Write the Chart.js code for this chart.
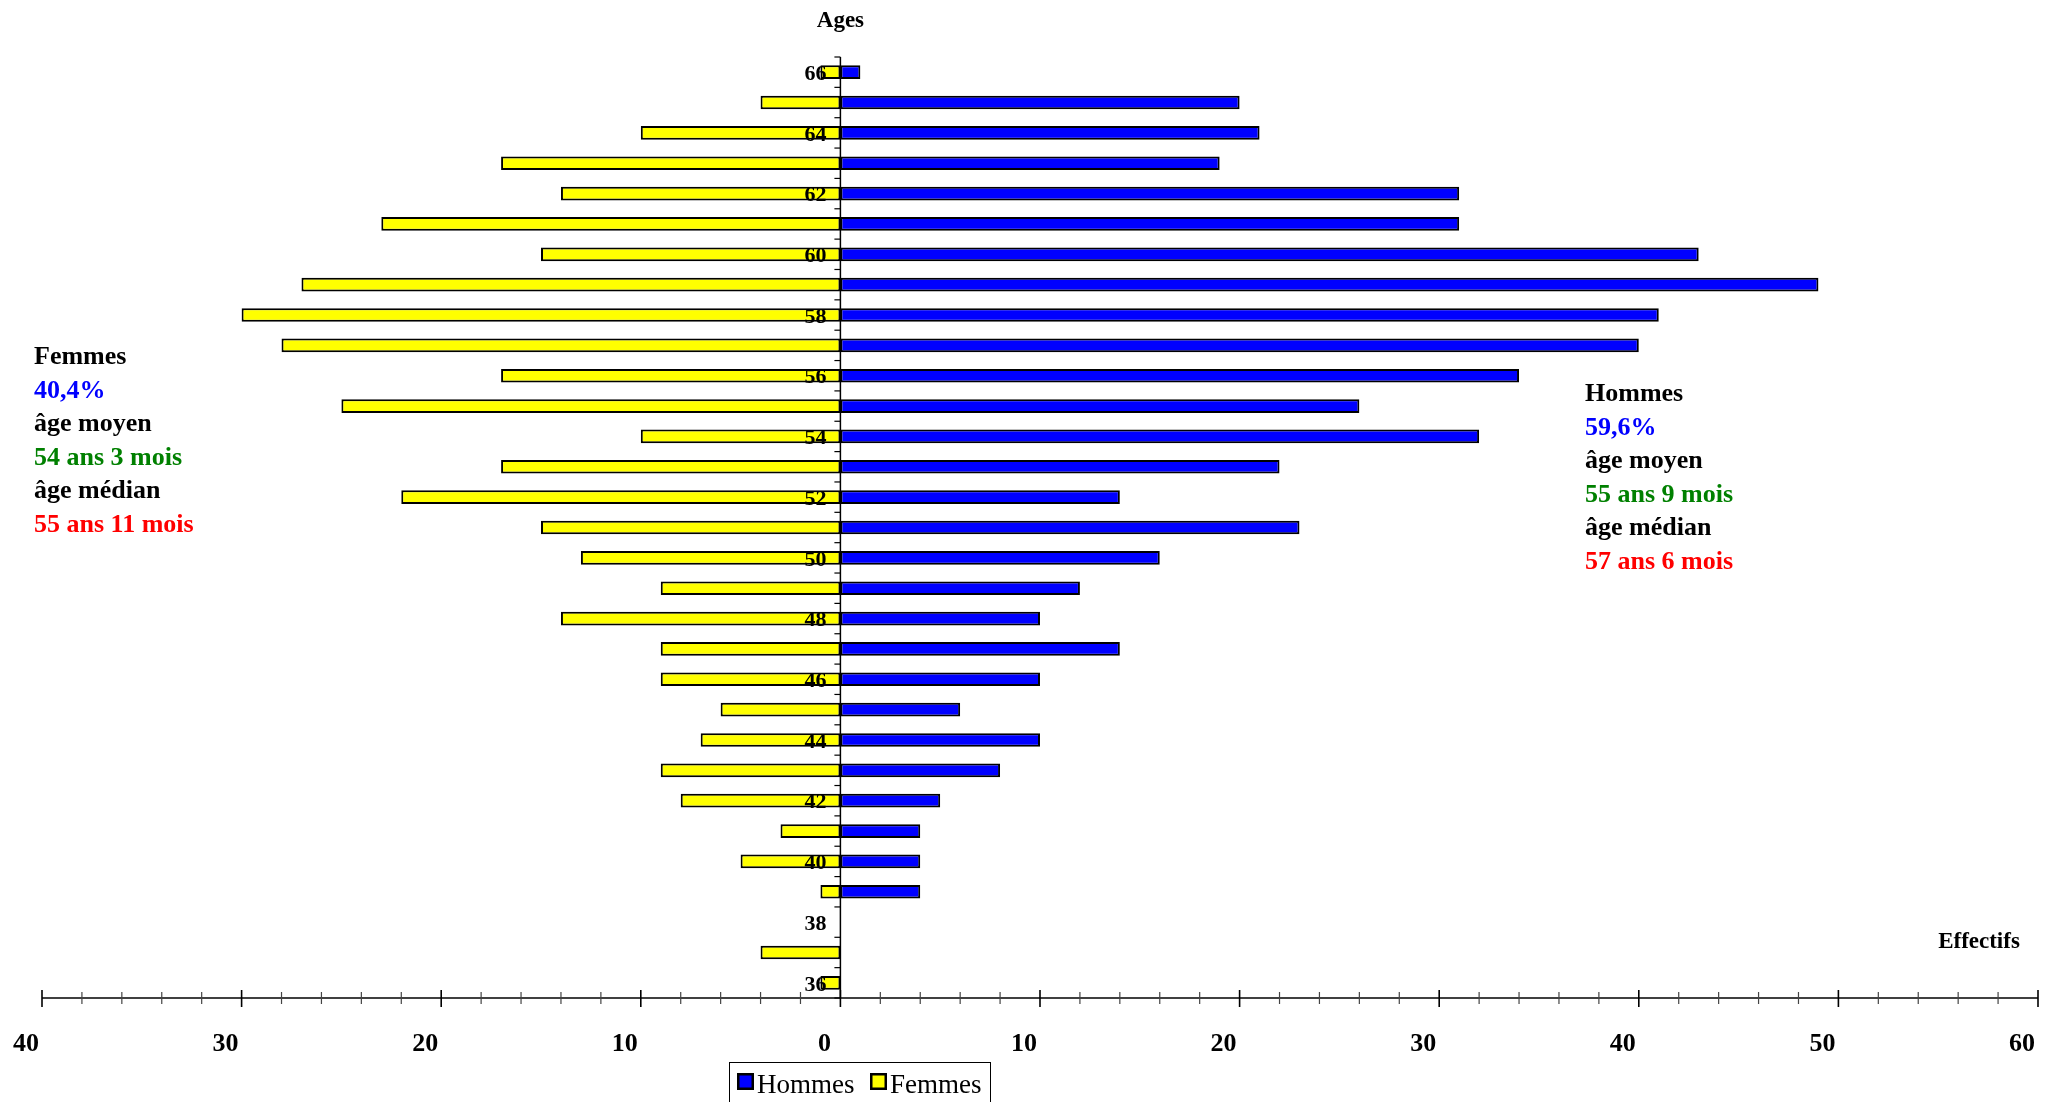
<!DOCTYPE html>
<html>
<head>
<meta charset="utf-8">
<script src="https://cdn.jsdelivr.net/npm/chart.js@4.4.0/dist/chart.umd.min.js"></script>
<style>
  html, body { margin: 0; padding: 0; background: #fff; }
</style>
</head>
<body>
<canvas id="myChart" width="2056" height="1102"></canvas>
<script>
// ages, top to bottom
const ages = [66, 65, 64, 63, 62, 61, 60, 59, 58, 57, 56, 55, 54, 53, 52, 51,
              50, 49, 48, 47, 46, 45, 44, 43, 42, 41, 40, 39, 38, 37, 36];
const hommes = [1, 20, 21, 19, 31, 31, 43, 49, 41, 40, 34, 26, 32, 22, 14, 23,
                16, 12, 10, 14, 10, 6, 10, 8, 5, 4, 4, 4, 0, 0, 0];
const femmes = [1, 4, 10, 17, 14, 23, 15, 27, 30, 28, 17, 25, 10, 17, 22, 15,
                13, 9, 14, 9, 9, 6, 7, 9, 8, 3, 5, 1, 0, 4, 1];
const xTicks = [-40, -30, -20, -10, 0, 10, 20, 30, 40, 50, 60];

const femmesNotes = ['Femmes', '40,4%', 'âge moyen', '54 ans 3 mois', 'âge médian', '55 ans 11 mois'];
const hommesNotes = ['Hommes', '59,6%', 'âge moyen', '55 ans 9 mois', 'âge médian', '57 ans 6 mois'];
const noteColors = ['#000000', '#0000ff', '#000000', '#008000', '#000000', '#ff0000'];

const SERIF = '"Liberation Serif", "Times New Roman", serif';

// axes, labels, legend and side notes
const pyramidPlugin = {
    id: 'pyramid',
    afterDatasetsDraw(chart) {
        const ctx = chart.ctx;
        const xs = chart.scales.x;
        const ys = chart.scales.y;
        const area = chart.chartArea;
        const x0 = xs.getPixelForValue(0);
        const step = ys.getPixelForTick(1) - ys.getPixelForTick(0);

        ctx.save();
        ctx.strokeStyle = '#000';
        ctx.lineWidth = 1.5;

        // vertical axis at 0
        ctx.beginPath();
        ctx.moveTo(x0, area.top);
        ctx.lineTo(x0, area.bottom);
        ctx.stroke();

        // small ticks between ages
        ctx.lineWidth = 1.2;
        for (let i = 0; i <= ages.length; i++) {
            const y = ys.getPixelForTick(0) - step / 2 + i * step;
            ctx.beginPath();
            ctx.moveTo(x0 - 6, y);
            ctx.lineTo(x0, y);
            ctx.stroke();
        }

        // age labels, one every two years
        ctx.fillStyle = '#000';
        ctx.font = 'bold 22px ' + SERIF;
        ctx.textAlign = 'right';
        ctx.textBaseline = 'middle';
        ages.forEach((a, i) => {
            if (a % 2 === 0) {
                ctx.fillText(String(a), x0 - 14, ys.getPixelForTick(i) + 2);
            }
        });

        // horizontal axis
        const yb = area.bottom;
        ctx.lineWidth = 1.5;
        ctx.beginPath();
        ctx.moveTo(xs.getPixelForValue(-40), yb);
        ctx.lineTo(xs.getPixelForValue(60), yb);
        ctx.stroke();
        for (let v = -40; v <= 60; v += 2) {
            const px = xs.getPixelForValue(v);
            const major = v % 10 === 0;
            ctx.strokeStyle = major ? '#000' : '#444';
            ctx.lineWidth = major ? 1.6 : 1.2;
            ctx.beginPath();
            ctx.moveTo(px, yb - (major ? 8 : 6));
            ctx.lineTo(px, yb + (major ? 9 : 6));
            ctx.stroke();
        }
        ctx.restore();
    },
    afterDraw(chart) {
        const ctx = chart.ctx;
        ctx.save();

        // titles
        ctx.fillStyle = '#000';
        ctx.font = 'bold 23px ' + SERIF;
        ctx.textAlign = 'center';
        ctx.textBaseline = 'alphabetic';
        ctx.fillText('Ages', chart.scales.x.getPixelForValue(0), 27);
        ctx.fillText('Effectifs', 1979, 948);

        // side notes
        ctx.font = 'bold 26px ' + SERIF;
        ctx.textAlign = 'left';
        femmesNotes.forEach((t, i) => {
            ctx.fillStyle = noteColors[i];
            ctx.fillText(t, 34, 364 + i * 33.6);
        });
        hommesNotes.forEach((t, i) => {
            ctx.fillStyle = noteColors[i];
            ctx.fillText(t, 1585, 401 + i * 33.6);
        });

        // legend
        ctx.strokeStyle = '#000';
        ctx.lineWidth = 1;
        ctx.strokeRect(729.5, 1062.5, 261, 50);
        ctx.font = '27px ' + SERIF;
        ctx.textBaseline = 'alphabetic';
        const items = [
            { x: 737, ds: chart.data.datasets[0] },
            { x: 870, ds: chart.data.datasets[1] }
        ];
        items.forEach(it => {
            ctx.fillStyle = it.ds.backgroundColor;
            ctx.fillRect(it.x, 1073, 17, 17);
            ctx.lineWidth = 2.5;
            ctx.strokeRect(it.x + 1.25, 1074.25, 14.5, 14.5);
            ctx.fillStyle = '#000';
            ctx.fillText(it.ds.label, it.x + 20, 1093);
        });
        ctx.restore();
    }
};

const data = {
    labels: ages.map(String),
    datasets: [{
        label: 'Hommes',
        data: hommes,
        backgroundColor: '#0000ff',
        borderColor: '#000000',
        borderWidth: 2,
        borderSkipped: false,
        categoryPercentage: 1,
        barPercentage: 0.45
    }, {
        label: 'Femmes',
        data: femmes.map(v => -v),
        backgroundColor: '#ffff00',
        borderColor: '#000000',
        borderWidth: 2,
        borderSkipped: false,
        categoryPercentage: 1,
        barPercentage: 0.45
    }]
};

const config = {
    type: 'bar',
    data: data,
    options: {
        indexAxis: 'y',
        responsive: false,
        animation: false,
        layout: {
            padding: { left: 42, right: 18, top: 57, bottom: 0 }
        },
        plugins: {
            legend: { display: false },
            tooltip: { enabled: false }
        },
        scales: {
            x: {
                stacked: true,
                min: -40,
                max: 60,
                grid: { display: false, drawTicks: false },
                border: { display: false },
                afterBuildTicks: function(scale) {
                    scale.ticks = xTicks.map(v => ({ value: v }));
                },
                afterFit: function(scale) {
                    scale.height = 104;
                    scale.paddingLeft = 0;
                    scale.paddingRight = 0;
                },
                ticks: {
                    autoSkip: false,
                    maxRotation: 0,
                    padding: 31,
                    labelOffset: -16,
                    color: '#000',
                    font: { family: SERIF, size: 26, weight: 'bold' },
                    callback: function(value) {
                        return Math.abs(value);
                    }
                }
            },
            y: {
                stacked: true,
                display: false
            }
        }
    },
    plugins: [pyramidPlugin]
};

window.onload = function() {
    const ctx = document.getElementById('myChart').getContext('2d');
    const myChart = new Chart(ctx, config);
};
</script>
</body>
</html>
